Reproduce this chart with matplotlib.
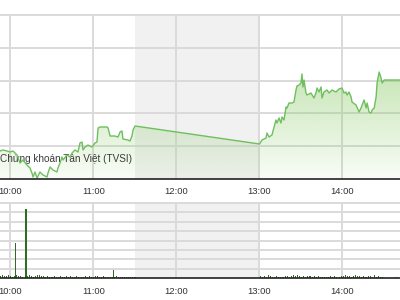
import matplotlib
matplotlib.use("Agg")
import matplotlib.pyplot as plt
import numpy as np
from matplotlib.patches import Polygon

# ---------------- data (minutes after 9:00, levels in chart units) ----------------
am_times = [52.4, 54.6, 57.5, 59.6, 61.8, 64.7, 66.9, 69.0, 71.9, 74.1, 75.5, 76.3, 77.7,
            79.2, 81.3, 83.5, 86.4, 87.1, 88.6, 90.7, 93.6, 94.3, 95.8, 97.2, 98.0, 100.8,
            103.0, 104.5, 106.6, 108.8, 110.2, 111.7, 112.4, 113.9, 116.0, 118.9, 121.1,
            122.5, 123.3, 124.7, 129.8, 130.5, 132.0, 135.5, 137.7, 139.2, 140.6, 141.3,
            144.9, 146.4, 147.8, 148.6, 150.0]
am_levels = [28, 29, 28, 27, 28, 24, 16, 19, 14, 11, 6, 2, 7,
             1, 7, 4, 2, 6, 12, 9, 7, 11, 16, 22, 19, 24,
             22, 26, 29, 27, 36, 37, 29, 32, 34, 32, 36,
             37, 51, 52, 52, 51, 43, 43, 42, 47, 48, 40,
             39, 38, 43, 49, 53]
pm_times = [240.0, 241.8, 244.7, 245.4, 246.9, 249.0, 251.9, 252.7, 254.1, 255.5, 256.3,
            257.7, 259.2, 259.9, 261.3, 263.5, 264.9, 266.4, 267.1, 268.6, 270.0, 270.7,
            271.4, 272.2, 273.6, 274.3, 277.2, 279.4, 280.8, 281.6, 283.0, 284.5, 285.2,
            286.6, 288.8, 290.3, 292.4, 295.3, 297.5, 299.6, 301.1, 302.5, 303.3, 304.7,
            306.2, 306.9, 309.8, 312.0, 313.4, 314.2, 315.6, 317.1, 317.8, 319.2, 320.7,
            321.4, 322.9, 324.3, 325.0, 326.5, 327.9, 328.7, 330.1, 342.0]
pm_levels = [35, 39, 41, 46, 42, 44, 59, 56, 61, 56, 62,
             59, 72, 71, 76, 76, 77, 89, 93, 94, 96, 105,
             92, 99, 86, 84, 86, 81, 86, 91, 87, 92, 81,
             87, 89, 86, 89, 87, 90, 91, 86, 87, 84, 87,
             82, 77, 74, 67, 71, 74, 79, 71, 76, 67, 66,
             69, 71, 82, 96, 107, 101, 96, 99, 99]

vol_am_start, vol_pm_start, vol_step = 52.5, 240.5, 1.5
vol_am = [2, 3, 2, 2, 3, 2, 1, 2, 3, 2, 2, 1, 3, 2, 3, 2, 1, 2, 3, 3, 2, 2, 1, 2, 1, 1, 2, 1,
          1, 2, 1, 1, 2, 1, 2, 1, 1, 2, 1, 1, 1, 2, 1, 2, 1, 1, 2, 2, 1, 1, 2, 1, 1, 1, 1, 1,
          2, 1, 1, 1, 1, 1, 1, 1, 1, 1]
vol_pm = [2, 1, 2, 1, 3, 2, 1, 1, 2, 1, 1, 1, 2, 2, 1, 2, 3, 2, 3, 2, 1, 2, 1, 2, 2, 1, 2, 1,
          2, 1, 1, 1, 1, 1, 2, 1, 2, 1, 1, 2, 2, 3, 2, 2, 1, 2, 3, 2, 2, 1, 2, 1, 2, 2, 1, 3,
          1, 2, 1, 1]
spike_times = [63.5, 71.2, 134.3, 339.0]
spike_vols = [35.6, 69.0, 8.0, 1.0]

tick_pos = [60, 120, 180, 240, 300]
tick_labels = ["10:00", "11:00", "12:00", "13:00", "14:00"]
watermark = "Chứng khoán Tân Việt (TVSI)"

# ---------------- styling ----------------
XMIN, XMAX = 52.41, 341.57
GRID = "#dadada"
SHADE = "#f1f1f1"
LINE = "#6fbf5f"
BAR = "#2f6b21"
FONT = "Liberation Sans"

fig = plt.figure(figsize=(4, 3), dpi=100)
ax = fig.add_axes([0, 1 - 179 / 300, 1, 164 / 300])
axv = fig.add_axes([0, 1 - 278.3 / 300, 1, 75.6 / 300])

for a in (ax, axv):
    a.set_xlim(XMIN, XMAX)
    a.axvspan(150, 240, color=SHADE, zorder=0, lw=0)
    for s in ("top", "left", "right"):
        a.spines[s].set_visible(False)
    a.spines["bottom"].set_color("#222222")
    a.spines["bottom"].set_linewidth(1.2)
    a.spines["bottom"].set_zorder(6)
    a.set_xticks(tick_pos)
    a.set_xticklabels(tick_labels, fontfamily=FONT, fontsize=6.8, color="#333333")
    a.tick_params(axis="x", length=0, pad=6)
    a.tick_params(axis="y", length=0, labelleft=False)
    a.set_axisbelow(True)
    for t in tick_pos:
        a.axvline(t, color=GRID, lw=1.4, zorder=1)

# ---- price panel ----
YTOP = 164
ax.set_ylim(0, YTOP)
for g in np.arange(1, 6) * 32.8:
    ax.axhline(g, color=GRID, lw=1.4, zorder=1, clip_on=False)

times = am_times + pm_times
levels = am_levels + pm_levels
verts = [(times[0], 0)] + list(zip(times, levels)) + [(times[-1], 0)]
poly = Polygon(verts, closed=True, facecolor="none", edgecolor="none")
ax.add_patch(poly)
grad = np.zeros((256, 1, 4))
alpha = np.linspace(0.06, 0.5, 256)
grad[:, 0, 0] = 0.56
grad[:, 0, 1] = 0.80
grad[:, 0, 2] = 0.42
grad[:, 0, 3] = alpha
im = ax.imshow(grad, extent=[XMIN, XMAX, 0, 110], origin="lower", aspect="auto",
               zorder=2, interpolation="bilinear")
im.set_clip_path(poly)
ax.plot(times, levels, color=LINE, lw=1.0, zorder=4, solid_joinstyle="round")
ax.text(0.0, 19.5, watermark, transform=ax.get_yaxis_transform(), ha="left",
        va="center", fontfamily=FONT, fontsize=7.2, color="#3a3a3a", zorder=3)
ax.set_xlim(XMIN, XMAX)
ax.set_ylim(0, YTOP)

# ---- volume panel ----
axv.set_ylim(0, 75.6)
for g in np.arange(1, 9) * 9.45:
    axv.axhline(g, color=GRID, lw=1.4, zorder=1, clip_on=False)
vt_am = [vol_am_start + i * vol_step for i in range(len(vol_am))]
vt_pm = [vol_pm_start + i * vol_step for i in range(len(vol_pm))]
axv.bar(vt_am, vol_am, width=0.75, color=BAR, zorder=3, lw=0)
axv.bar(vt_pm, vol_pm, width=0.75, color=BAR, zorder=3, lw=0)
axv.bar(spike_times, spike_vols, width=0.9, color=BAR, zorder=3, lw=0)

fig.savefig("out.png", dpi=100)
